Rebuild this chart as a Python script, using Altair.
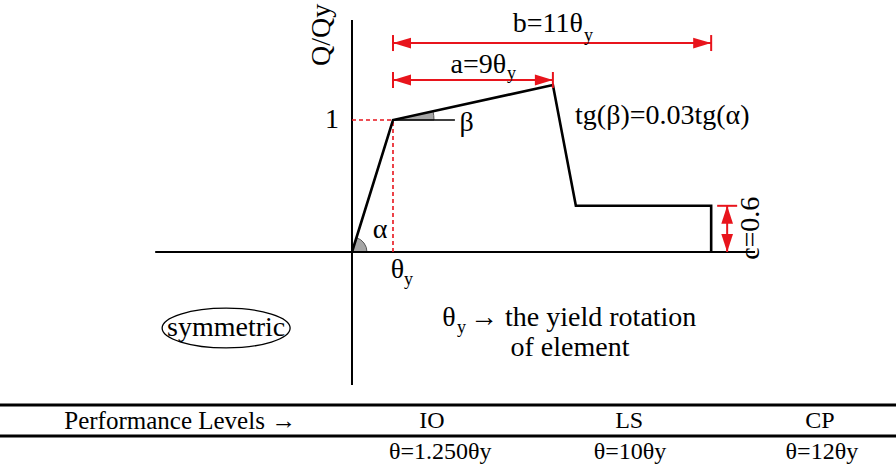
import math
import altair as alt
import pandas as pd

W, H = 896, 466
FONT = "Liberation Serif"
RED = "#e8141c"

# Plot coordinates: x in units of the yield rotation θy, y in Q/Qy
X_DOMAIN = [-8.585, 13.268]
Y_DOMAIN = [-1.621, 1.909]
PX_X = W / (X_DOMAIN[1] - X_DOMAIN[0])
PX_Y = H / (Y_DOMAIN[1] - Y_DOMAIN[0])

# Backbone curve (schematic)
curve_x = [0.0, 1.0, 4.90, 5.46, 8.76, 8.76]
curve_y = [0.0, 1.0, 1.265, 0.35, 0.35, 0.0]

# Axes
axis_x1 = [0.0, -4.80]
axis_x2 = [0.0, 9.83]
axis_y1 = [1.758, 0.0]
axis_y2 = [-1.008, 0.0]

# Dimension lines
dim_names = ["b", "a", "c"]
dim_x1 = [1.0, 1.0, 9.15]
dim_x2 = [8.76, 4.90, 9.15]
dim_y1 = [1.583, 1.303, 0.0]
dim_y2 = [1.583, 1.303, 0.35]

# Table
table_rule_y = [-1.159, -1.394]
levels = ["IO", "LS", "CP"]
level_limits = ["θ=1.250θy", "θ=10θy", "θ=12θy"]
level_x = [1.95, 6.76, 11.41]
limit_x = [2.15, 6.78, 11.46]

xs = alt.Scale(domain=X_DOMAIN, nice=False, zero=False)
ys = alt.Scale(domain=Y_DOMAIN, nice=False, zero=False)


def X(f="x"):
    return alt.X(f"{f}:Q", scale=xs, axis=None)


def Y(f="y"):
    return alt.Y(f"{f}:Q", scale=ys, axis=None)


def segs(x1, y1, x2, y2):
    return pd.DataFrame({"x": x1, "y": y1, "x2": x2, "y2": y2})


def rules(df, **kw):
    return alt.Chart(df).mark_rule(**kw).encode(
        x=X(), y=Y(), x2="x2:Q", y2="y2:Q"
    )


layers = []

# angle wedges (alpha at origin, beta at yield point)
def heading(x0, y0, x1, y1):
    return math.atan2((x1 - x0) * PX_X, (y1 - y0) * PX_Y)

wedges = pd.DataFrame({
    "x": [curve_x[0], curve_x[1]],
    "y": [curve_y[0], curve_y[1]],
    "t1": [heading(curve_x[0], curve_y[0], curve_x[1], curve_y[1]),
           heading(curve_x[1], curve_y[1], curve_x[2], curve_y[2])],
    "t2": [math.pi / 2, math.pi / 2],
    "r": [15, 41],
})
layers.append(
    alt.Chart(wedges).mark_arc(fill="#a6a6a6", stroke="#555555", strokeWidth=1).encode(
        x=X(), y=Y(),
        theta=alt.Theta("t1:Q", scale=None),
        theta2="t2:Q",
        radius=alt.Radius("r:Q", scale=None),
    )
)

# axes
layers.append(rules(segs(axis_x1, axis_y1, axis_x2, axis_y2), color="black", strokeWidth=2))
# beta reference line
layers.append(rules(segs([curve_x[1]], [1.0], [2.51], [1.0]), color="black", strokeWidth=1.5))
# yield guides
layers.append(rules(
    segs([0.0, curve_x[1]], [curve_y[1], 0.0], [curve_x[1], curve_x[1]], [curve_y[1], curve_y[1]]),
    color=RED, strokeWidth=1.6, strokeDash=[4, 3]))

# backbone curve
curve = pd.DataFrame({"x": curve_x, "y": curve_y, "o": list(range(len(curve_x)))})
layers.append(
    alt.Chart(curve).mark_line(color="black", strokeWidth=2.6, strokeJoin="miter").encode(
        x=X(), y=Y(), order="o:Q"
    )
)

# dimension shafts
layers.append(rules(segs(dim_x1, dim_y1, dim_x2, dim_y2), color=RED, strokeWidth=2))
# end bars
hb = 8 / PX_Y
wb = 10 / PX_X
bars = segs(
    [dim_x1[0], dim_x2[0], dim_x1[1], dim_x2[1], dim_x2[2] - wb],
    [dim_y1[0] - hb, dim_y2[0] - hb, dim_y1[1] - hb, dim_y2[1] - hb, dim_y2[2]],
    [dim_x1[0], dim_x2[0], dim_x1[1], dim_x2[1], dim_x2[2] + wb],
    [dim_y1[0] + hb, dim_y2[0] + hb, dim_y1[1] + hb, dim_y2[1] + hb, dim_y2[2]],
)
layers.append(rules(bars, color=RED, strokeWidth=2))

# arrow heads (tip sits on the point)
heads = pd.DataFrame({
    "x": [dim_x1[0], dim_x2[0], dim_x1[1], dim_x2[1], dim_x2[2], dim_x1[2]],
    "y": [dim_y1[0], dim_y2[0], dim_y1[1], dim_y2[1], dim_y2[2], dim_y1[2]],
    "d": ["left", "right", "left", "right", "up", "down"],
})
paths = {
    "left": "M0,0L2,-0.6L2,0.6Z",
    "right": "M0,0L-2,-0.6L-2,0.6Z",
    "up": "M0,0L-0.65,2L0.65,2Z",
    "down": "M0,0L-0.65,-2L0.65,-2Z",
}
layers.append(
    alt.Chart(heads).mark_point(filled=True, color=RED, opacity=1, strokeWidth=0).encode(
        x=X(), y=Y(),
        shape=alt.Shape("d:N", scale=alt.Scale(domain=list(paths), range=list(paths.values())), legend=None),
        size=alt.value(324),
    )
)

# ellipse around "symmetric"
sym_x, sym_y = -3.07, -0.576
layers.append(
    alt.Chart(pd.DataFrame({"x": [sym_x], "y": [sym_y]})).mark_point(
        shape="M-1,0A1,0.31 0 1,1 1,0A1,0.31 0 1,1 -1,0Z",
        filled=False, color="black", strokeWidth=1.3, opacity=1, size=16384,
    ).encode(x=X(), y=Y())
)

# table rules
layers.append(rules(
    segs([X_DOMAIN[0]] * 2, table_rule_y, [X_DOMAIN[1]] * 2, table_rule_y),
    color="black", strokeWidth=3))

# text labels
BIG, SUB, TAB = 28, 18, 24
labels = [
    # text, x, y, size, align, angle
    ("b=11θ", 5.634, 1.730, BIG, "right", 0),
    ("y", 5.66, 1.640, SUB, "left", 0),
    ("a=9θ", 3.76, 1.415, BIG, "right", 0),
    ("y", 3.78, 1.345, SUB, "left", 0),
    ("tg(β)=0.03tg(α)", 5.44, 1.03, BIG, "left", 0),
    ("β", 2.62, 0.975, BIG, "left", 0),
    ("1", -0.488, 1.0, BIG, "center", 0),
    ("Q/Qy", -0.72, 1.644, BIG, "center", 270),
    ("α", 0.683, 0.165, BIG, "center", 0),
    ("θ", 1.11, -0.135, BIG, "center", 0),
    ("y", 1.27, -0.215, SUB, "left", 0),
    ("c=0.6", 9.72, 0.18, BIG, "center", 270),
    ("symmetric", sym_x, sym_y, BIG, "center", 0),
    ("θ", 2.366, -0.5, BIG, "center", 0),
    ("y", 2.56, -0.575, SUB, "left", 0),
    ("→ the yield rotation", 2.88, -0.5, BIG, "left", 0),
    ("of element", 5.317, -0.727, BIG, "center", 0),
    ("Performance Levels →", -4.19, -1.28, 25, "center", 0),
]
for lv, lx in zip(levels, level_x):
    labels.append((lv, lx, -1.28, TAB, "center", 0))
for lm, lx in zip(level_limits, limit_x):
    labels.append((lm, lx, -1.512, TAB, "center", 0))

lab = pd.DataFrame(labels, columns=["text", "x", "y", "size", "align", "angle"])
for al in ["left", "center", "right"]:
    sub = lab[lab["align"] == al]
    layers.append(
        alt.Chart(sub).mark_text(font=FONT, align=al, baseline="middle", color="black").encode(
            x=X(), y=Y(), text="text:N",
            size=alt.Size("size:Q", scale=None, legend=None),
            angle=alt.Angle("angle:Q", scale=None),
        )
    )

chart = alt.layer(*layers).properties(
    width=W, height=H, padding=0, autosize=alt.AutoSizeParams(type="none"),
    background="white",
).configure_view(stroke=None)

chart.save("out.html", embed_options={"renderer": "svg", "actions": False})
